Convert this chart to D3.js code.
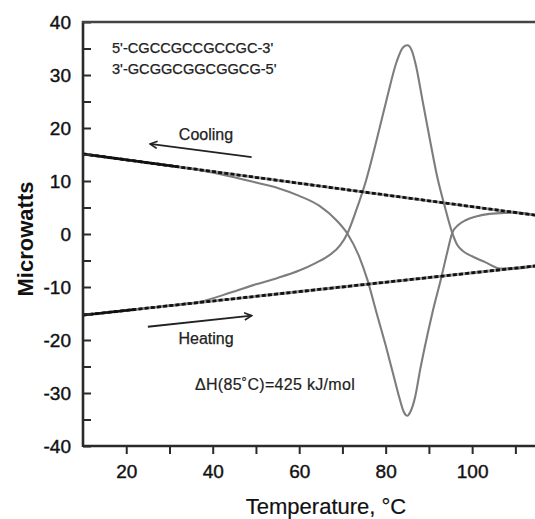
<!DOCTYPE html>
<html><head><meta charset="utf-8">
<script src="https://cdn.jsdelivr.net/npm/d3@7/dist/d3.min.js"></script>
<style>
html,body{margin:0;padding:0;background:#fff;}
svg{display:block;font-family:"Liberation Sans",Arial,sans-serif;}
</style></head>
<body><svg id="c" width="535" height="519"></svg>
<script>
// ---- data ----
const xTicks = [20, 40, 60, 80, 100];
const xMinorTicks = [20, 30, 40, 50, 60, 70, 80, 90, 100, 110];
const yTicks = [40, 30, 20, 10, 0, -10, -20, -30, -40];
const yMinorTicks = [35, 25, 15, 5, -5, -15, -25, -35];
const seqLines = ["5'-CGCCGCCGCCGC-3'", "3'-GCGGCGGCGGCG-5'"];
const annotation = "\u0394H(85\u02daC)=425 kJ/mol";

// heating scan (temperature °C, microwatts)
const heatT = [10, 20, 30, 37, 44, 50, 55, 60, 64, 67, 69.5, 71.2, 73.2, 75.5, 78, 80.2, 82.5, 84, 85, 86, 87, 88.5, 90.3, 92, 93.6, 95.4, 96.5, 98, 100, 103, 106.5, 110, 115];
const heatV = [-15.3, -14.4, -13.5, -12.8, -11.1, -9.5, -8.3, -6.9, -5.4, -4.0, -2.1, 0.2, 4.5, 10.2, 18.0, 25.3, 32.4, 35.2, 35.6, 34.7, 31.8, 25.3, 17.5, 10.5, 5.4, 0.2, -2.0, -3.3, -4.2, -5.3, -6.5, -6.5, -6.0];
// cooling scan
const coolT = [10, 20, 30, 38, 45, 50, 55, 60, 64.7, 68.6, 71.2, 73.9, 75.8, 77.9, 80, 81.6, 83.2, 84.2, 85, 85.8, 86.8, 88, 89, 90.8, 92.9, 94.2, 95.4, 96.8, 98.5, 100.9, 104, 110, 115];
const coolV = [15.1, 14.0, 12.9, 11.9, 10.7, 9.7, 8.7, 7.2, 5.3, 2.6, 0.0, -4.3, -8.7, -14.9, -21.0, -26.0, -31.0, -33.6, -34.3, -33.4, -30.8, -25.5, -21.5, -14.9, -8.1, -3.6, 0.2, 1.7, 2.6, 3.3, 3.8, 4.05, 3.5];
// baselines
const coolBaseT = [10, 115], coolBaseV = [15.1, 3.5];
const heatBaseT = [10, 115], heatBaseV = [-15.3, -6.0];
const coolSolidEnd = 32, heatSolidEnd = 22;
// arrows (data coords): [T0,V0,T1,V1] tail -> head
const coolArrow = [49, 14.5, 25.5, 17.0];
const heatArrow = [25, -17.5, 49, -15.4];

// ---- chart ----
const svg = d3.select("#c");
const x = d3.scaleLinear().domain([10, 115]).range([83, 537]);
const y = d3.scaleLinear().domain([-40, 40]).range([446, 22]);
const axisCol = "#2a2a2a";

const defs = svg.append("defs");
defs.append("clipPath").attr("id", "plot").append("rect")
  .attr("x", x(10)).attr("y", y(40)).attr("width", x(115) - x(10)).attr("height", y(-40) - y(40));
defs.append("clipPath").attr("id", "coolSolid").append("rect")
  .attr("x", x(10)).attr("y", 0).attr("width", x(coolSolidEnd) - x(10)).attr("height", 519);
defs.append("clipPath").attr("id", "heatSolid").append("rect")
  .attr("x", x(10)).attr("y", 0).attr("width", x(heatSolidEnd) - x(10)).attr("height", 519);
defs.append("marker").attr("id", "ah").attr("viewBox", "0 0 10 10").attr("refX", 9).attr("refY", 5)
  .attr("markerWidth", 9).attr("markerHeight", 9).attr("markerUnits", "userSpaceOnUse").attr("orient", "auto")
  .append("path").attr("d", "M1,1 L9,5 L1,9").attr("fill", "none").attr("stroke", "#222").attr("stroke-width", 1.8);

const g = svg.append("g").attr("clip-path", "url(#plot)");
const line = d3.line().x(d => x(d[0])).y(d => y(d[1])).curve(d3.curveMonotoneX);
const zip = (a, b) => a.map((t, i) => [t, b[i]]);

const curveCol = "#7d7d7d";
// baselines: grey underlay + black dashes
[[coolBaseT, coolBaseV], [heatBaseT, heatBaseV]].forEach(([t, v]) => {
  g.append("path").attr("d", line(zip(t, v))).attr("fill", "none").attr("stroke", "#9a9a9a").attr("stroke-width", 2.8);
});
g.append("path").attr("d", line(zip(heatT, heatV))).attr("fill", "none").attr("stroke", curveCol).attr("stroke-width", 2.1);
g.append("path").attr("d", line(zip(coolT, coolV))).attr("fill", "none").attr("stroke", curveCol).attr("stroke-width", 2.1);
[[coolBaseT, coolBaseV], [heatBaseT, heatBaseV]].forEach(([t, v]) => {
  g.append("path").attr("d", line(zip(t, v))).attr("fill", "none").attr("stroke", "#111").attr("stroke-width", 2.8)
    .attr("stroke-dasharray", "4,2.2");
});
g.append("path").attr("d", line(zip(coolBaseT, coolBaseV))).attr("fill", "none").attr("stroke", "#111").attr("stroke-width", 2.4)
  .attr("clip-path", "url(#coolSolid)");
g.append("path").attr("d", line(zip(heatBaseT, heatBaseV))).attr("fill", "none").attr("stroke", "#111").attr("stroke-width", 2.4)
  .attr("clip-path", "url(#heatSolid)");

// axes
const xAxis = d3.axisBottom(x).tickValues(xMinorTicks).tickSize(8).tickFormat(d => xTicks.includes(d) ? d : "");
const gx = svg.append("g").attr("transform", `translate(0,${y(-40)})`).call(xAxis);
gx.select(".domain").attr("d", `M${x(10)},0H540`).attr("stroke", axisCol).attr("stroke-width", 2.6);
gx.selectAll(".tick line").attr("stroke", axisCol).attr("stroke-width", 2);
gx.selectAll(".tick text").attr("font-size", 19).attr("fill", "#111").attr("dy", "1.1em")
  .attr("stroke", "#111").attr("stroke-width", 0.4)
  .attr("font-family", "Liberation Sans, Arial, sans-serif");

const yAxis = d3.axisLeft(y).tickValues(yTicks.concat(yMinorTicks)).tickSize(-8).tickPadding(12)
  .tickFormat(d => yTicks.includes(d) ? d : "");
const gy = svg.append("g").attr("transform", `translate(${x(10)},0)`).call(yAxis);
gy.select(".domain").attr("d", `M0,${y(40) - 1}V${y(-40) + 1}`).attr("stroke", axisCol).attr("stroke-width", 2.6);
gy.selectAll(".tick line").attr("stroke", axisCol).attr("stroke-width", 2);
gy.selectAll(".tick text").attr("font-size", 19).attr("fill", "#111")
  .attr("stroke", "#111").attr("stroke-width", 0.4)
  .attr("font-family", "Liberation Sans, Arial, sans-serif");

// top frame line
svg.append("line").attr("x1", x(10) - 1).attr("x2", 540).attr("y1", y(40)).attr("y2", y(40))
  .attr("stroke", "#444").attr("stroke-width", 2.6);

// axis titles
svg.append("text").attr("x", 326).attr("y", 514).attr("text-anchor", "middle").attr("font-size", 22)
  .attr("fill", "#111").attr("stroke", "#111").attr("stroke-width", 0.2).text("Temperature, \u00b0C");
svg.append("text").attr("transform", `translate(33,239) rotate(-90)`).attr("text-anchor", "middle")
  .attr("font-size", 22).attr("font-weight", "bold").attr("fill", "#111").text("Microwatts");

// annotations
svg.selectAll(".seq").data(seqLines).enter().append("text")
  .attr("x", 112).attr("y", (d, i) => 53 + i * 21).attr("font-size", 14.6).attr("fill", "#222")
  .attr("stroke", "#222").attr("stroke-width", 0.25).text(d => d);
svg.append("text").attr("x", 206).attr("y", 140).attr("text-anchor", "middle").attr("font-size", 16).attr("fill", "#222")
  .attr("stroke", "#222").attr("stroke-width", 0.25).text("Cooling");
svg.append("text").attr("x", 206).attr("y", 344).attr("text-anchor", "middle").attr("font-size", 16).attr("fill", "#222")
  .attr("stroke", "#222").attr("stroke-width", 0.25).text("Heating");
svg.append("text").attr("x", 195).attr("y", 390).attr("font-size", 16).attr("fill", "#222").attr("letter-spacing", 0.3)
  .attr("stroke", "#222").attr("stroke-width", 0.2).text(annotation);

[coolArrow, heatArrow].forEach(a => {
  svg.append("line").attr("x1", x(a[0])).attr("y1", y(a[1])).attr("x2", x(a[2])).attr("y2", y(a[3]))
    .attr("stroke", "#222").attr("stroke-width", 1.8).attr("marker-end", "url(#ah)");
});
</script></body></html>
